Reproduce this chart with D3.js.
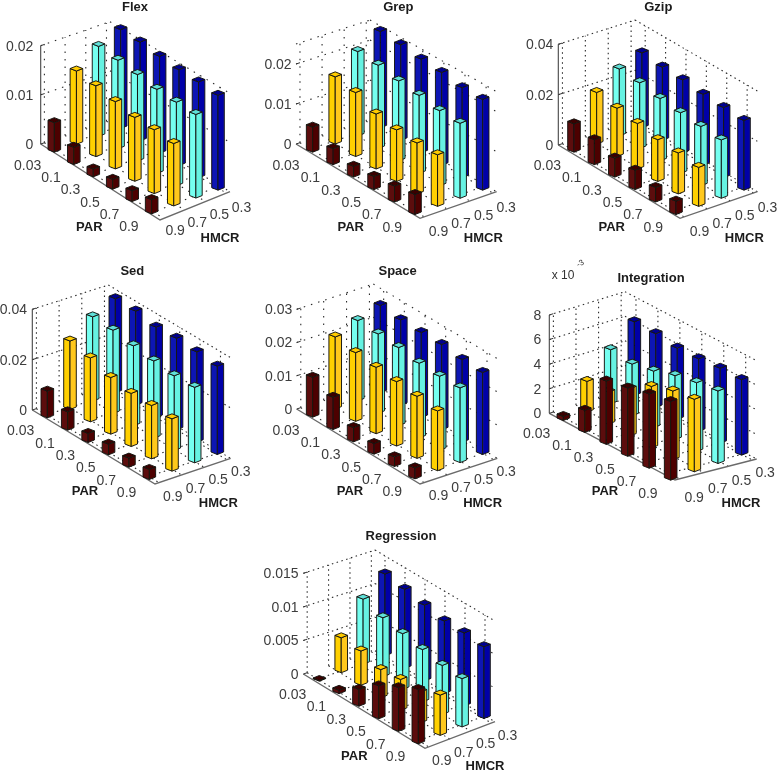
<!DOCTYPE html>
<html><head><meta charset="utf-8">
<script src="https://cdnjs.cloudflare.com/ajax/libs/d3/7.8.5/d3.min.js"></script>
<style>html,body{margin:0;padding:0;background:#fff}svg{display:block}text{font-family:"Liberation Sans",Arial,sans-serif}</style>
</head><body><svg id="c" width="777" height="775"></svg>
<script>
const parLabels=["0.03","0.1","0.3","0.5","0.7","0.9"];
const hmcrLabels=["0.9","0.7","0.5","0.3"];
const rowColors=[
 {left:"#5c0808",right:"#4e0404",top:"#3a0000"},
 {left:"#ffd000",right:"#ffc81a",top:"#ffcc00"},
 {left:"#74fff0",right:"#66f2e2",top:"#5fe0d8"},
 {left:"#0a12b4",right:"#0505a8",top:"#000090"}];
// value rows: HMCR 0.9, 0.7, 0.5, 0.3; each with the six PAR values
const flexValues=[[.0060,.0035,.0016,.0020,.0022,.0029],[.0149,.0144,.0137,.0130,.0130,.0127],[.0183,.0180,.0176,.0171,.0170,.0170],[.0201,.0201,.0197,.0195,.0195,.0193]];
const grepValues=[[.00625,.0040,.0027,.0033,.0040,.0050],[.0168,.0160,.01375,.0129,.01275,.0129],[.0211,.0208,.0200,.0195,.0188,.01875],[.0241,.0239,.0234,.0232,.0225,.0227]];
const gzipValues=[[.01126,.0099,.00755,.0077,.0058,.0053],[.0205,.0192,.0181,.0166,.0163,.0155],[.0266,.0261,.0248,.0241,.0236,.0232],[.0298,.0291,.0290,.0282,.0279,.0277]];
const sedValues=[[.0106,.0073,.0036,.0042,.0036,.0040],[.0272,.0254,.0225,.0211,.0212,.0208],[.0335,.0331,.0318,.0307,.0297,.0300],[.0374,.0374,.0359,.0364,.0359,.0351]];
const spaceValues=[[.0120,.0097,.0043,.0032,.0029,.0033],[.0217,.0207,.0200,.0194,.0187,.0180],[.0242,.0239,.0235,.0225,.0223,.0225],[.0263,.0257,.0256,.0257,.0249,.0247]];
const integrationValues=[[.33,1.8,5.15,5.55,6.04,6.4],[2.5,2.6,3.85,5.0,5.6,5.9],[4.4,4.2,4.6,5.2,5.6,5.9],[6.0,6.0,5.8,5.9,6.1,6.15]];
const regressionValues=[[.0001,.0005,.0025,.0049,.0065,.0081],[.0052,.0051,.0042,.0046,.0046,.0060],[.0097,.0088,.0083,.0078,.0073,.0072],[.0122,.0118,.0113,.0108,.0109,.0107]];
const flexTicks=[0,.01,.02],grepTicks=[0,.01,.02],gzipTicks=[0,.02,.04],sedTicks=[0,.02,.04],spaceTicks=[0,.01,.02,.03],integrationTicks=[0,2,4,6,8],regressionTicks=[0,.005,.01,.015];

// Layout measured in 3x crop coordinates relative to each panel's crop offset.
const panels=[
 {title:"Flex",off:[0,0],values:flexValues,ticks:flexTicks,t:[405,18],L:[122,432],F:[480,660],R:[690,575],topY:135,zeroY:430,topVal:.02,back:[330,65],a:[163,458],b:[455,643],c:[654,572],par:[268,678],hm:[660,712],solid:true,lab:100,dash:"1.5 6"},
 {title:"Grep",off:[260,0],values:grepValues,ticks:grepTicks,t:[415,18],L:[108,432],F:[480,655],R:[710,575],topY:130,zeroY:430,topVal:.025,back:[330,60],a:[158,458],b:[465,645],c:[668,572],par:[272,678],hm:[670,712],solid:false,lab:95,dash:"1.5 6"},
 {title:"Gzip",off:[520,0],values:gzipValues,ticks:gzipTicks,t:[415,18],L:[115,435],F:[480,655],R:[712,575],topY:133,zeroY:435,topVal:.04,back:[345,60],a:[162,458],b:[468,645],c:[672,572],par:[275,678],hm:[673,712],solid:true,lab:100,dash:"1.5 3.5"},
 {title:"Sed",off:[0,260],values:sedValues,ticks:sedTicks,t:[397,30],L:[97,450],F:[465,672],R:[692,595],topY:148,zeroY:450,topVal:.04,back:[325,75],a:[142,475],b:[448,660],c:[652,585],par:[255,692],hm:[655,728],solid:true,lab:81,dash:"1.5 3.5"},
 {title:"Space",off:[260,260],values:spaceValues,ticks:spaceTicks,t:[413,30],L:[110,447],F:[480,672],R:[712,595],topY:148,zeroY:447,topVal:.03,back:[340,72],a:[158,473],b:[465,658],c:[668,585],par:[270,692],hm:[668,727],solid:false,lab:97,dash:"1.5 6"},
 {title:"Integration",off:[520,260],values:integrationValues,ticks:integrationTicks,t:[393,52],L:[88,460],F:[465,660],R:[710,597],topY:163,zeroY:458,topVal:8,back:[315,95],a:[130,483],b:[452,662],c:[665,587],par:[255,692],hm:[663,727],solid:true,exp:true,lab:64,dash:"1.5 3.5"},
 {title:"Regression",off:[250,525],values:regressionValues,ticks:regressionTicks,t:[453,30],L:[160,447],F:[525,670],R:[735,590],topY:145,zeroY:447,topVal:.015,back:[375,75],a:[208,470],b:[505,658],c:[702,582],par:[313,690],hm:[705,722],solid:false,lab:146,dash:"1.5 3.5"}
];
const svg=d3.select("#c");
const defs=svg.append("defs");
defs.append("filter").attr("id","soft").attr("x",0).attr("y",0).attr("width",1).attr("height",1)
  .append("feGaussianBlur").attr("stdDeviation",.45);
const root=svg.append("g").attr("filter","url(#soft)");
root.append("rect").attr("width",777).attr("height",775).attr("fill","#fff");
const footW=6.3, footD=2.5, footLift=3;
panels.forEach(p=>{
  const abs=c=>[p.off[0]+c[0]/3,p.off[1]+c[1]/3];
  const g=root.append("g");
  const [L,F,R]=[abs(p.L),abs(p.F),abs(p.R)];
  const zScale=d3.scaleLinear().domain([0,p.topVal]).range([0,(p.topY-p.zeroY)/3]);
  const backTop=abs(p.back);
  const zH=zScale(p.topVal);
  const B=[backTop[0],backTop[1]-zH];
  const parPos=d3.scalePoint().domain(parLabels).range([0,1]);
  const hmPos=d3.scalePoint().domain(hmcrLabels).range([0,1]);
  const a=abs(p.a),b=abs(p.b),c=abs(p.c);
  const A=[a[0],a[1]-footLift];
  const Pe=[b[0]-a[0],b[1]-a[1]],He=[c[0]-b[0],c[1]-b[1]];
  const pt=(par,hm,z=0)=>{
    const u=parPos(par), v=hmPos(hm);
    return [A[0]+u*Pe[0]+v*He[0],A[1]+u*Pe[1]+v*He[1]+zScale(z)];
  };
  const line=d3.line();
  // dotted grid
  const dots=g.append("g").attr("fill","none").attr("stroke","#2a2a2a").attr("stroke-width",1.1).attr("stroke-dasharray",p.dash);
  const seg=(s,e)=>dots.append("path").attr("d",line([s,e]));
  const lerp=(s,e,t)=>[s[0]+(e[0]-s[0])*t,s[1]+(e[1]-s[1])*t];
  const up=(q,z)=>[q[0],q[1]+zScale(z)];
  p.ticks.concat(p.ticks.includes(p.topVal)?[]:[p.topVal]).forEach(z=>{
    if(z>0){seg(up(L,z),up(B,z));}
    seg(up(B,z),up(R,z));
  });
  hmcrLabels.forEach((h,j)=>{
    const t=(j+.18)/3.35;
    const q=lerp(L,B,t); seg(q,up(q,p.topVal));
    seg(q,lerp(F,R,t));
  });
  parLabels.forEach((h,i)=>{
    const t=(i+.5)/6;
    const q=lerp(B,R,t); seg(q,up(q,p.topVal));
    seg(lerp(L,F,t),q);
  });
  // axes
  g.append("path").attr("d",line([L,F,R])).attr("fill","none").attr("stroke","#6a6a6a").attr("stroke-width",1.4);
  if(p.solid) g.append("path").attr("d",line([L,up(L,p.topVal)])).attr("fill","none").attr("stroke","#555").attr("stroke-width",1.2);
  p.ticks.forEach(z=>{
    g.append("path").attr("d",line([up(L,z),[L[0]+4,up(L,z)[1]-1.3]])).attr("stroke","#333").attr("stroke-width",1);
  });
  // bars back to front
  const bars=[];
  d3.range(3,-1,-1).forEach(j=>parLabels.forEach((par,i)=>bars.push({par,hm:hmcrLabels[j],j,v:p.values[j][i]})));
  const closed=d=>"M"+d.map(q=>q.map(n=>n.toFixed(2)).join(",")).join("L")+"Z";
  const bg=g.selectAll("g.bar").data(bars).join("g").attr("class","bar").attr("stroke","#141410").attr("stroke-width",.95).attr("stroke-linejoin","round");
  const foot=(d,ox,oy,z)=>{const q=pt(d.par,d.hm,z);return [q[0]+ox*footW,q[1]+oy*footD];};
  bg.append("path").attr("fill",d=>rowColors[d.j].left).attr("d",d=>closed([foot(d,-1,0,0),foot(d,0,1,0),foot(d,0,1,d.v),foot(d,-1,0,d.v)]));
  bg.append("path").attr("fill",d=>rowColors[d.j].right).attr("d",d=>closed([foot(d,0,1,0),foot(d,1,0,0),foot(d,1,0,d.v),foot(d,0,1,d.v)]));
  bg.append("path").attr("fill",d=>rowColors[d.j].top).attr("d",d=>closed([foot(d,-1,0,d.v),foot(d,0,1,d.v),foot(d,1,0,d.v),foot(d,0,-1,d.v)]));
  // tick labels
  const tick=g.append("g").attr("fill","#3c3c3c").attr("font-size",14);
  p.ticks.forEach(z=>{
    tick.append("text").attr("x",p.off[0]+p.lab/3).attr("y",up(L,z)[1]).attr("dy","0.35em").attr("text-anchor","end").text(String(z));
  });
  parLabels.forEach(par=>{
    const q=pt(par,"0.9");
    tick.append("text").attr("x",q[0]-13).attr("y",q[1]+15).attr("dy","0.35em").attr("text-anchor","end").text(par);
  });
  hmcrLabels.forEach(hm=>{
    const q=pt("0.9",hm);
    tick.append("text").attr("x",q[0]+23.5).attr("y",q[1]+19).attr("dy","0.35em").attr("text-anchor","middle").text(hm);
  });
  const bold=(txt,xy)=>{const q=abs(xy);g.append("text").attr("x",q[0]).attr("y",q[1]).attr("dy","0.35em").attr("text-anchor","middle").attr("font-weight","bold").attr("font-size",13).attr("fill","#1a1a1a").text(txt);};
  bold(p.title,p.t);bold("PAR",p.par);bold("HMCR",p.hm);
  if(p.exp){
    g.append("text").attr("x",p.off[0]+43).attr("y",p.off[1]+15).attr("dy","0.35em").attr("text-anchor","middle").attr("font-size",12).attr("fill","#333").text("x 10");
    g.append("text").attr("transform",`translate(${p.off[0]+60},${p.off[1]+3}) rotate(-30)`).attr("dy","0.35em").attr("text-anchor","middle").attr("font-size",8).attr("fill","#333").text("-3");
  }
});
</script></body></html>
